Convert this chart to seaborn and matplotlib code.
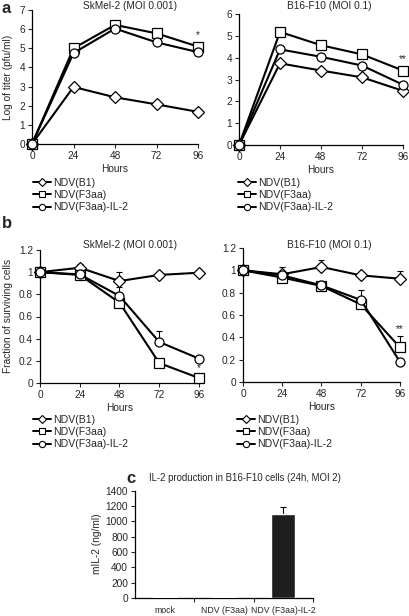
import numpy as np
import pandas as pd
import seaborn as sns
import matplotlib.pyplot as plt
from matplotlib.lines import Line2D

hours = [0, 24, 48, 72, 96]
viruses = ['NDV(B1)', 'NDV(F3aa)', 'NDV(F3aa)-IL-2']
marker_list = ['D', 's', 'o']

# a: log titer
sk_titer_b1 = [0, 2.98, 2.44, 2.07, 1.68]
sk_titer_f3 = [0, 5.0, 6.22, 5.78, 5.09]
sk_titer_il2 = [0, 4.75, 6.03, 5.31, 4.8]
b16_titer_b1 = [0, 3.74, 3.41, 3.1, 2.48]
b16_titer_f3 = [0, 5.18, 4.57, 4.15, 3.41]
b16_titer_il2 = [0, 4.38, 4.04, 3.64, 2.76]

# b: fraction of surviving cells, upper error
sk_surv_b1 = [1.0, 1.04, 0.92, 0.975, 0.995]
sk_err_b1 = [0, 0.035, 0.08, 0.03, 0]
sk_surv_f3 = [1.0, 0.975, 0.725, 0.18, 0.045]
sk_err_f3 = [0, 0, 0, 0, 0]
sk_surv_il2 = [1.0, 0.98, 0.785, 0.37, 0.22]
sk_err_il2 = [0, 0, 0.08, 0.095, 0]
b16_surv_b1 = [1.0, 0.965, 1.03, 0.955, 0.925]
b16_err_b1 = [0, 0.065, 0.06, 0, 0.07]
b16_surv_f3 = [1.0, 0.935, 0.86, 0.695, 0.31]
b16_err_f3 = [0, 0, 0, 0, 0.1]
b16_surv_il2 = [1.0, 0.955, 0.865, 0.735, 0.18]
b16_err_il2 = [0, 0, 0.04, 0.085, 0]

# c: IL-2 production
il2_groups = ['mock', 'NDV (F3aa)', 'NDV (F3aa)-IL-2']
il2_conc = [15, 18, 1100]
il2_err = [0, 0, 90]

W, H = 410, 616
sns.set_theme(style='ticks')
plt.rcParams['font.family'] = ['Liberation Sans', 'DejaVu Sans']
FS = 7.3

fig = plt.figure(figsize=(W / 100, H / 100), dpi=100)


def rect(x0, x1, ytop, ybot):
    return [x0 / W, 1 - ybot / H, (x1 - x0) / W, (ybot - ytop) / H]


def ftext(x, y, s, **kw):
    fig.text(x / W, 1 - y / H, s, **kw)


def line_panel(ax, vals, errs, ylim, yticks, yticklabels):
    df = pd.DataFrame({'Hours': hours * 3,
                       'val': sum(vals, []),
                       'virus': np.repeat(viruses, len(hours))})
    sns.lineplot(data=df, x='Hours', y='val', style='virus', style_order=viruses,
                 markers=marker_list, dashes=False, color='black', linewidth=1.5,
                 markersize=6.5, ax=ax, legend=False, zorder=3)
    for ln in ax.lines:
        ln.set_markerfacecolor('white')
        ln.set_markeredgecolor('black')
        ln.set_markeredgewidth(0.9)
        ln.set_clip_on(False)
    if errs is not None:
        for v, e in zip(vals, errs):
            x = [h for h, ee in zip(hours, e) if ee > 0]
            y = [vv for vv, ee in zip(v, e) if ee > 0]
            ee = [ee for ee in e if ee > 0]
            if x:
                ax.errorbar(x, y, yerr=[np.zeros(len(ee)), ee], fmt='none', ecolor='black',
                            elinewidth=0.8, capsize=2.2, capthick=0.8, zorder=2, clip_on=False)
    ax.set_xlim(0, 96)
    ax.set_xticks(hours)
    ax.set_ylim(*ylim)
    ax.set_yticks(yticks)
    ax.set_yticklabels(yticklabels)
    ax.set_xlabel('Hours', fontsize=FS, labelpad=2)
    ax.set_ylabel('')
    sns.despine(ax=ax)
    ax.tick_params(labelsize=FS, length=3, width=0.8, pad=2)
    for s in ax.spines.values():
        s.set_linewidth(0.9)
        s.set_color('black')


def legend_at(x, y):
    handles = [Line2D([], [], color='black', lw=1.4, marker=m, markersize=4.5,
                      markerfacecolor='white', markeredgecolor='black', markeredgewidth=0.8)
               for m in marker_list]
    fig.legend(handles, viruses, loc='upper left', bbox_to_anchor=(x / W, 1 - y / H),
               frameon=False, fontsize=FS + 0.3, handlelength=1.7, handletextpad=0.2,
               labelspacing=0.2, borderpad=0, borderaxespad=0)


# panel a
ax1 = fig.add_axes(rect(32, 198, 10, 144))
line_panel(ax1, [sk_titer_b1, sk_titer_f3, sk_titer_il2], None,
           (0, 7), range(0, 8), [str(i) for i in range(0, 8)])
ax1.text(96, 5.45, '*', ha='center', va='bottom', fontsize=FS)
ax2 = fig.add_axes(rect(239, 403, 14, 145))
line_panel(ax2, [b16_titer_b1, b16_titer_f3, b16_titer_il2], None,
           (0, 6), range(0, 7), [str(i) for i in range(0, 7)])
ax2.text(96, 3.7, '**', ha='center', va='bottom', fontsize=FS)

ftext(130, 6, 'SkMel-2 (MOI 0.001)', ha='center', va='center', fontsize=FS)
ftext(329, 6, 'B16-F10 (MOI 0.1)', ha='center', va='center', fontsize=FS)
ftext(8, 77, 'Log of titer (pfu/ml)', ha='center', va='center', rotation=90, fontsize=FS)
legend_at(33, 178)
legend_at(238, 178)

# panel b
surv_ticks = [0, 0.2, 0.4, 0.6, 0.8, 1.0, 1.2]
surv_labels = ['0', '0.2', '0.4', '0.6', '0.8', '1', '1.2']
ax3 = fig.add_axes(rect(40, 199, 250, 383))
line_panel(ax3, [sk_surv_b1, sk_surv_f3, sk_surv_il2], [sk_err_b1, sk_err_f3, sk_err_il2],
           (0, 1.2), surv_ticks, surv_labels)
ax3.text(96, 0.09, '*', ha='center', va='bottom', fontsize=FS)
ax4 = fig.add_axes(rect(243, 400, 248, 382))
line_panel(ax4, [b16_surv_b1, b16_surv_f3, b16_surv_il2], [b16_err_b1, b16_err_f3, b16_err_il2],
           (0, 1.2), surv_ticks, surv_labels)
ax4.text(96, 0.43, '**', ha='center', va='bottom', fontsize=FS)

ftext(130, 245, 'SkMel-2 (MOI 0.001)', ha='center', va='center', fontsize=FS)
ftext(329, 245, 'B16-F10 (MOI 0.1)', ha='center', va='center', fontsize=FS)
ftext(8, 316, 'Fraction of surviving cells', ha='center', va='center', rotation=90, fontsize=FS)
legend_at(33, 415)
legend_at(237, 415)

# panel c
ax5 = fig.add_axes(rect(135, 313, 490.6, 598))
dfc = pd.DataFrame({'group': il2_groups, 'conc': il2_conc})
sns.barplot(data=dfc, x='group', y='conc', color='#1e1e1e', width=0.4, ax=ax5,
            errorbar=None, saturation=1, zorder=3)
ax5.errorbar([2], [il2_conc[2]], yerr=[[0], [il2_err[2]]], fmt='none', ecolor='black',
             elinewidth=0.8, capsize=2.2, capthick=0.8, zorder=2)
ax5.set_xlim(-0.5, 2.5)
ax5.set_ylim(0, 1400)
ax5.set_yticks(range(0, 1401, 200))
ax5.set_xlabel('')
ax5.set_ylabel('')
ax5.set_xticks([0.5, 1.5, 2.5], minor=True)
ax5.tick_params(axis='x', which='major', length=0, labelsize=6.3, pad=6)
ax5.tick_params(axis='x', which='minor', length=3, width=0.8)
ax5.tick_params(axis='y', labelsize=FS, length=3, width=0.8, pad=2)
sns.despine(ax=ax5)
for s in ax5.spines.values():
    s.set_linewidth(0.9)
    s.set_color('black')
ftext(245, 478, 'IL-2 production in B16-F10 cells (24h, MOI 2)', ha='center', va='center',
      fontsize=6.9)
ftext(97, 544, 'mIL-2 (ng/ml)', ha='center', va='center', rotation=90, fontsize=FS)

# panel letters
ftext(2, 1, 'a', ha='left', va='top', fontsize=12, fontweight='bold')
ftext(2, 216, 'b', ha='left', va='top', fontsize=12, fontweight='bold')
ftext(126, 471, 'c', ha='left', va='top', fontsize=12, fontweight='bold')

fig.savefig('out.png', dpi=100)
